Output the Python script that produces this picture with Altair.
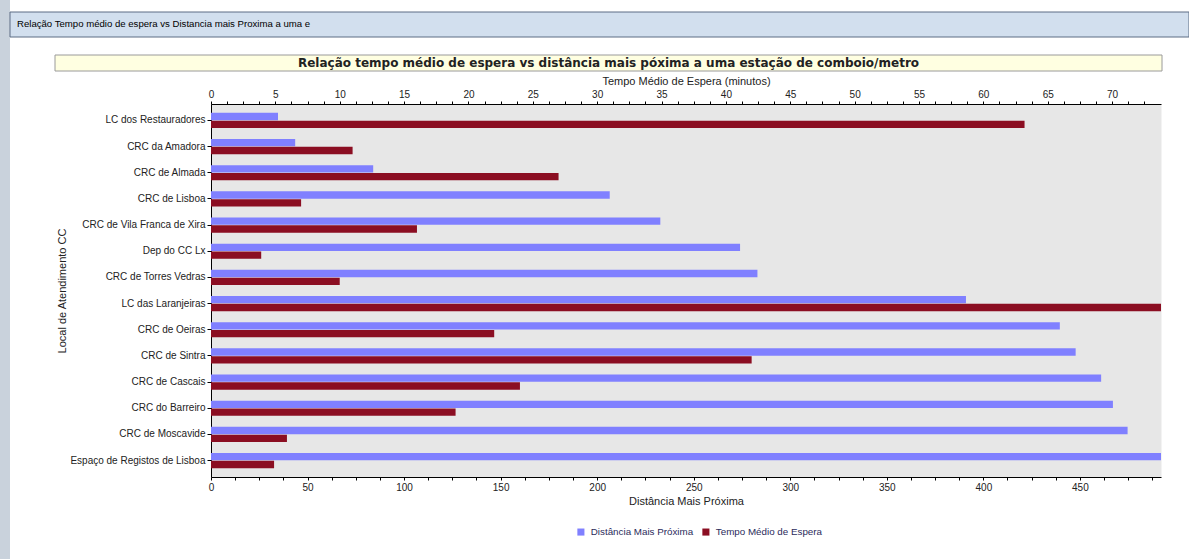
import altair as alt
import pandas as pd

# ---- data ----
locais = [
    "LC dos Restauradores", "CRC da Amadora", "CRC de Almada", "CRC de Lisboa",
    "CRC de Vila Franca de Xira", "Dep do CC Lx", "CRC de Torres Vedras",
    "LC das Laranjeiras", "CRC de Oeiras", "CRC de Sintra", "CRC de Cascais",
    "CRC do Barreiro", "CRC de Moscavide", "Espaço de Registos de Lisboa",
]
distancia = [34.7, 43.6, 84.0, 206.5, 232.7, 274.0, 283.0, 391.0, 439.6, 447.8,
             461.0, 467.1, 474.7, 492.0]
tempo = [63.2, 11.0, 27.0, 7.0, 16.0, 3.9, 10.0, 73.8, 22.0, 42.0, 24.0, 19.0, 5.9, 4.9]
series = ["Distância Mais Próxima", "Tempo Médio de Espera"]
cores = ["#8080FF", "#8B0E22"]

top_ticks = [i * 1.25 for i in range(0, 59)]
bottom_ticks = [i * 12.5 for i in range(0, 40)]

window_title = "Relação Tempo médio de espera vs Distancia mais Proxima a uma e"
chart_title = "Relação tempo médio de espera vs distância mais póxima a uma estação de comboio/metro"

df = pd.DataFrame({
    "local": locais * 2,
    "serie": [series[0]] * len(locais) + [series[1]] * len(locais),
    "valor": distancia + tempo,
})

FONT = "Liberation Sans"
TXT = "#222222"

y_enc = alt.Y(
    "local:N", sort=locais,
    scale=alt.Scale(paddingInner=0.42, paddingOuter=0.337),
    axis=alt.Axis(title="Local de Atendimento CC", labelFontSize=10, labelFont=FONT,
                  labelColor=TXT, titleFont=FONT, titleFontSize=11, titleFontWeight="normal",
                  titleColor=TXT, tickSize=4, labelPadding=2, titlePadding=2,
                  domainColor="#000000", tickColor="#000000"),
)
yoff = alt.YOffset("serie:N", sort=series, scale=alt.Scale(domain=series, paddingInner=0.06))
color = alt.Color(
    "serie:N", scale=alt.Scale(domain=series, range=cores),
    legend=alt.Legend(title=None, orient="none", legendX=365, legendY=423, direction="horizontal",
                      symbolType="square", symbolSize=50, symbolStrokeWidth=0,
                      labelFontSize=9.8, labelFont=FONT, labelColor="#2B2B5B",
                      columnPadding=7, labelOffset=5),
)

base = alt.Chart(df)

blue = base.transform_filter(alt.datum.serie == series[0]).mark_bar().encode(
    x=alt.X("valor:Q", scale=alt.Scale(domain=[0, max(distancia)], nice=False, zero=True),
            axis=alt.Axis(orient="bottom", title="Distância Mais Próxima", values=bottom_ticks,
                          labelExpr="datum.value % 50 == 0 ? format(datum.value, 'd') : ''",
                          labelOverlap=False, labelFlush=False, grid=False, tickSize=3,
                          labelPadding=2, titlePadding=3, labelFontSize=10, labelFont=FONT,
                          labelColor=TXT, titleFont=FONT, titleFontSize=11,
                          titleFontWeight="normal", titleColor=TXT,
                          domainColor="#000000", tickColor="#000000")),
    y=y_enc, yOffset=yoff, color=color,
)

red = base.transform_filter(alt.datum.serie == series[1]).mark_bar().encode(
    x=alt.X("valor:Q", scale=alt.Scale(domain=[0, max(tempo)], nice=False, zero=True),
            axis=alt.Axis(orient="top", title="Tempo Médio de Espera (minutos)", values=top_ticks,
                          labelExpr="datum.value % 5 == 0 ? format(datum.value, 'd') : ''",
                          labelOverlap=False, labelFlush=False, grid=False, tickSize=3,
                          labelPadding=2, titlePadding=3, labelFontSize=10, labelFont=FONT,
                          labelColor=TXT, titleFont=FONT, titleFontSize=11,
                          titleFontWeight="normal", titleColor=TXT,
                          domainColor="#000000", tickColor="#000000")),
    y=y_enc, yOffset=yoff, color=color,
)

one = pd.DataFrame({"t": [window_title], "c": [chart_title]})

# window frame decorations (screenshot chrome)
title_bar = alt.Chart(one).mark_rect(fill="#D2DFEE", stroke="#5C6D84", strokeWidth=1).encode(
    x=alt.value(-201), x2=alt.value(978), y=alt.value(-92), y2=alt.value(-67))
left_strip = alt.Chart(one).mark_rect(fill="#C9D2DC").encode(
    x=alt.value(-211), x2=alt.value(-201), y=alt.value(-104), y2=alt.value(455))
win_text = alt.Chart(one).mark_text(align="left", baseline="middle", font=FONT, fontSize=9.6,
                                    color="#000000").encode(
    x=alt.value(-194), y=alt.value(-80), text="t:N")

# chart title box
title_box = alt.Chart(one).mark_rect(fill="#FFFFE1", stroke="#9A9A9A", strokeWidth=1).encode(
    x=alt.value(-156), x2=alt.value(951), y=alt.value(-49), y2=alt.value(-33))
title_text = alt.Chart(one).mark_text(align="center", baseline="middle", font="DejaVu Sans",
                                      fontSize=12, fontWeight="bold", color="#222222").encode(
    x=alt.value(397.5), y=alt.value(-41), text="c:N")

chart = alt.layer(
    left_strip, title_bar, win_text, title_box, title_text, blue, red
).resolve_scale(x="independent").properties(
    width=950, height=373,
    autosize=alt.AutoSizeParams(type="none"),
    padding={"left": 211, "top": 104, "right": 28, "bottom": 82},
    background="white",
).configure_view(fill="#E7E7E7", stroke="transparent")

chart.save("out.html", embed_options={"renderer": "svg", "actions": False})
